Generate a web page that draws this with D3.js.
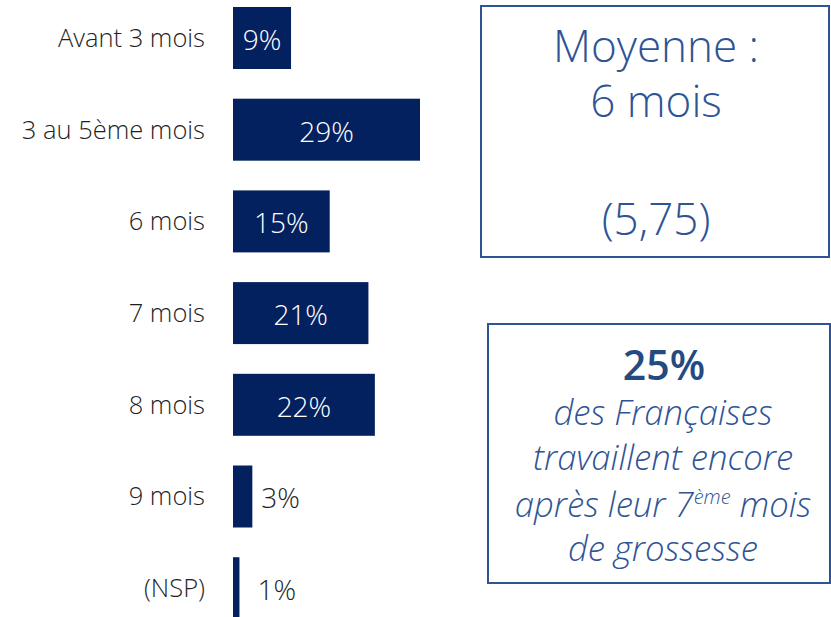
<!DOCTYPE html>
<html>
<head>
<meta charset="utf-8">
<script src="https://cdn.jsdelivr.net/npm/d3@7"></script>
<style>
    body { margin: 0; background: #fff; }
    text { font-family: "Open Sans", sans-serif; }
</style>
</head>
<body>
<div id="chart"></div>
<script>
var width = 831;
var height = 617;

// data
var categories = ["Avant 3 mois", "3 au 5ème mois", "6 mois", "7 mois", "8 mois", "9 mois", "(NSP)"];
var values = [9, 29, 15, 21, 22, 3, 1];
var moyenneLines = ["Moyenne :", "6 mois", "(5,75)"];
var highlightValue = "25%";

var navy = "#03215f";
var blue = "#2f5496";

var svg = d3.select("#chart").append("svg")
    .attr("width", width)
    .attr("height", height);

var x = d3.scaleLinear().domain([0, 29]).range([233, 420]);
var y = d3.scaleBand()
    .domain(categories)
    .range([-7.85, 634.05])
    .paddingInner(0.324)
    .paddingOuter(0.162);

var rows = svg.selectAll("g.row")
    .data(categories.map(function (c, i) { return { cat: c, val: values[i] }; }))
    .enter().append("g")
    .attr("class", "row");

rows.append("rect")
    .attr("x", x(0))
    .attr("y", function (d) { return y(d.cat); })
    .attr("width", function (d) { return x(d.val) - x(0); })
    .attr("height", y.bandwidth())
    .attr("fill", navy);

// category labels
rows.append("text")
    .attr("x", 205)
    .attr("y", function (d) { return y(d.cat) + y.bandwidth() / 2; })
    .attr("dy", "0.35em")
    .attr("text-anchor", "end")
    .attr("font-size", 25.5)
    .attr("font-weight", 350)
    .attr("fill", "#1f1f1f")
    .text(function (d) { return d.cat; });

// value labels
rows.append("text")
    .attr("x", function (d) {
        if (d.val >= 5) return (x(0) + x(d.val)) / 2;
        return x(d.val) + 9 + (d.val < 2 ? 9 : 0);
    })
    .attr("y", function (d) { return y(d.cat) + y.bandwidth() / 2 + 2; })
    .attr("dy", "0.35em")
    .attr("text-anchor", function (d) { return d.val >= 5 ? "middle" : "start"; })
    .attr("font-size", 28)
    .attr("font-weight", function (d) { return d.val >= 5 ? 300 : 350; })
    .attr("fill", function (d) { return d.val >= 5 ? "#fff" : "#1f1f1f"; })
    .text(function (d) { return d.val + "%"; });

// box 1 : moyenne
svg.append("rect")
    .attr("x", 481).attr("y", 6)
    .attr("width", 348).attr("height", 251)
    .attr("fill", "none")
    .attr("stroke", blue)
    .attr("stroke-width", 2);

var moyY = [62, 117, 235];
svg.selectAll("text.moy")
    .data(moyenneLines)
    .enter().append("text")
    .attr("class", "moy")
    .attr("x", 656)
    .attr("y", function (d, i) { return moyY[i]; })
    .attr("text-anchor", "middle")
    .attr("font-size", 44)
    .attr("font-weight", 300)
    .attr("fill", blue)
    .text(function (d) { return d; });

// box 2 : 25%
svg.append("rect")
    .attr("x", 488).attr("y", 324)
    .attr("width", 342).attr("height", 259)
    .attr("fill", "none")
    .attr("stroke", blue)
    .attr("stroke-width", 2);

svg.append("text")
    .attr("x", 664).attr("y", 380)
    .attr("text-anchor", "middle")
    .attr("font-size", 41)
    .attr("font-weight", 600)
    .attr("fill", "#244a82")
    .text(highlightValue);

function italicLine(yPos) {
    return svg.append("text")
        .attr("x", 663).attr("y", yPos)
        .attr("text-anchor", "middle")
        .attr("font-size", 34.7)
        .attr("font-style", "italic")
        .attr("font-weight", 300)
        .attr("fill", blue);
}

italicLine(425).text("des Françaises");
italicLine(470).text("travaillent encore");
var l3 = italicLine(517);
l3.append("tspan").text("après leur 7");
l3.append("tspan").attr("dy", -13).attr("font-size", 20).text("ème");
l3.append("tspan").attr("dy", 13).text(" mois");
italicLine(561).text("de grossesse");
</script>
</body>
</html>
